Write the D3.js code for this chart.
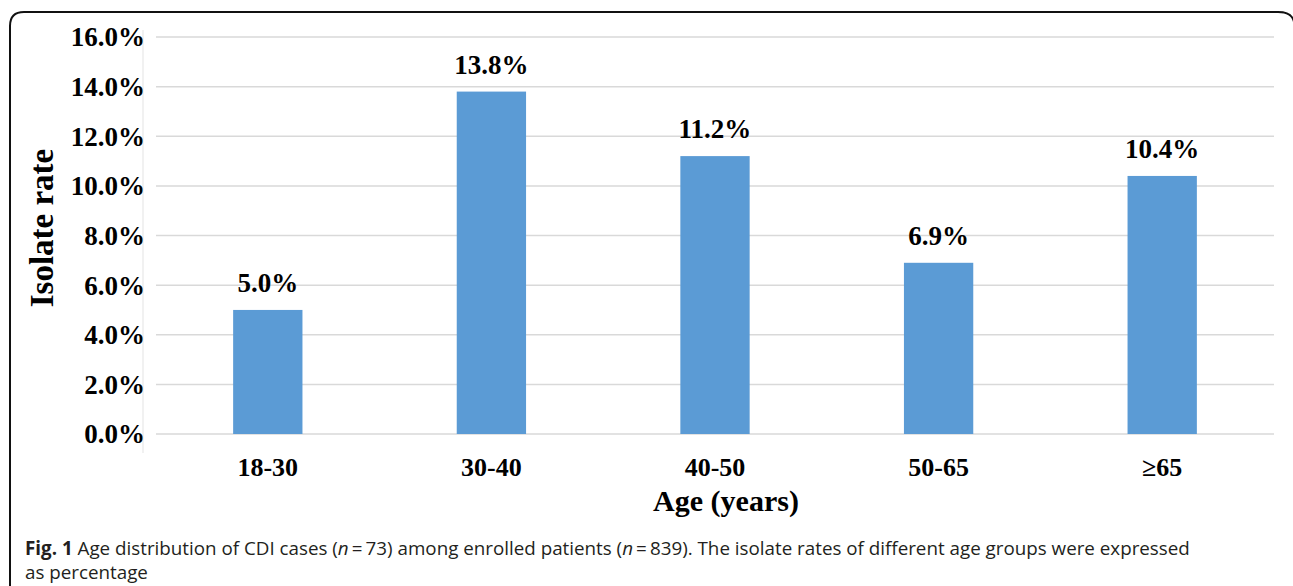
<!DOCTYPE html>
<html>
<head>
<meta charset="utf-8">
<script src="https://cdn.jsdelivr.net/npm/d3@7"></script>
<style>
  body { margin: 0; background: #fff; }
  svg { display: block; }
</style>
</head>
<body>
<div id="chart"></div>
<script>
var ageGroups = ['18-30', '30-40', '40-50', '50-65', '\u226565']
var isolateRates = [5.0, 13.8, 11.2, 6.9, 10.4]
var yTicks = [0, 2, 4, 6, 8, 10, 12, 14, 16]

var width = 1293
var height = 586
var plot = { left: 156, right: 1274, top: 37, bottom: 434 }
var serif = '"Liberation Serif", "Times New Roman", serif'

var svg = d3.select('#chart')
  .append('svg')
  .attr('width', width)
  .attr('height', height)

// rounded frame around the figure
svg.append('path')
  .attr('d', 'M10,600 L10,26 Q10,12 24,12 L1278,12 Q1292,12 1294,22')
  .attr('fill', 'none')
  .attr('stroke', '#111')
  .attr('stroke-width', 2)

var x = d3.scaleBand()
  .domain(ageGroups)
  .range([plot.left, plot.right])
  .paddingInner(0.69)
  .paddingOuter(0.345)

var y = d3.scaleLinear()
  .domain([0, 16])
  .range([plot.bottom, plot.top])

// gridlines
svg.selectAll('line.grid')
  .data(yTicks)
  .enter().append('line')
  .attr('class', 'grid')
  .attr('x1', plot.left)
  .attr('x2', plot.right)
  .attr('y1', function (d) { return y(d) })
  .attr('y2', function (d) { return y(d) })
  .attr('stroke', '#d9d9d9')
  .attr('stroke-width', 1.5)

// faint vertical axis line
svg.append('line')
  .attr('x1', 143).attr('x2', 143)
  .attr('y1', 30).attr('y2', 453)
  .attr('stroke', '#e3e3e3')
  .attr('stroke-width', 1)

// y tick labels
svg.selectAll('text.ytick')
  .data(yTicks)
  .enter().append('text')
  .attr('class', 'ytick')
  .attr('x', 145)
  .attr('y', function (d) { return y(d) })
  .attr('dy', '0.35em')
  .attr('text-anchor', 'end')
  .style('font-family', serif)
  .style('font-weight', 'bold')
  .style('font-size', '27px')
  .text(function (d) { return d.toFixed(1) + '%' })

// bars
svg.selectAll('rect.bar')
  .data(isolateRates)
  .enter().append('rect')
  .attr('class', 'bar')
  .attr('x', function (d, i) { return x(ageGroups[i]) })
  .attr('y', function (d) { return y(d) })
  .attr('width', x.bandwidth())
  .attr('height', function (d) { return y(0) - y(d) })
  .attr('fill', '#5b9bd5')

// value labels
svg.selectAll('text.value')
  .data(isolateRates)
  .enter().append('text')
  .attr('class', 'value')
  .attr('x', function (d, i) { return x(ageGroups[i]) + x.bandwidth() / 2 })
  .attr('y', function (d) { return y(d) - 18 })
  .attr('text-anchor', 'middle')
  .style('font-family', serif)
  .style('font-weight', 'bold')
  .style('font-size', '27px')
  .text(function (d) { return d.toFixed(1) + '%' })

// category labels
svg.selectAll('text.xtick')
  .data(ageGroups)
  .enter().append('text')
  .attr('class', 'xtick')
  .attr('x', function (d) { return x(d) + x.bandwidth() / 2 })
  .attr('y', 476)
  .attr('text-anchor', 'middle')
  .style('font-family', serif)
  .style('font-weight', 'bold')
  .style('font-size', '26px')
  .text(function (d) { return d })

// axis titles
svg.append('text')
  .attr('x', 726)
  .attr('y', 511)
  .attr('text-anchor', 'middle')
  .style('font-family', serif)
  .style('font-weight', 'bold')
  .style('font-size', '30px')
  .text('Age (years)')

svg.append('text')
  .attr('transform', 'translate(53,228) rotate(-90)')
  .attr('text-anchor', 'middle')
  .style('font-family', serif)
  .style('font-weight', 'bold')
  .style('font-size', '33px')
  .text('Isolate rate')

// caption
var cap = svg.append('text')
  .attr('x', 25)
  .attr('y', 555)
  .style('font-family', '"Open Sans", "Noto Sans", sans-serif')
  .style('font-size', '18.8px')
  .attr('fill', '#231f20')
cap.append('tspan').style('font-weight', 'bold').text('Fig. 1')
cap.append('tspan').text(' Age distribution of CDI cases (')
cap.append('tspan').style('font-style', 'italic').text('n')
cap.append('tspan').text('\u2009=\u200973) among enrolled patients (')
cap.append('tspan').style('font-style', 'italic').text('n')
cap.append('tspan').text('\u2009=\u2009839). The isolate rates of different age groups were expressed')

svg.append('text')
  .attr('x', 25)
  .attr('y', 579)
  .style('font-family', '"Open Sans", "Noto Sans", sans-serif')
  .style('font-size', '18.8px')
  .attr('fill', '#231f20')
  .text('as percentage')
</script>
</body>
</html>
